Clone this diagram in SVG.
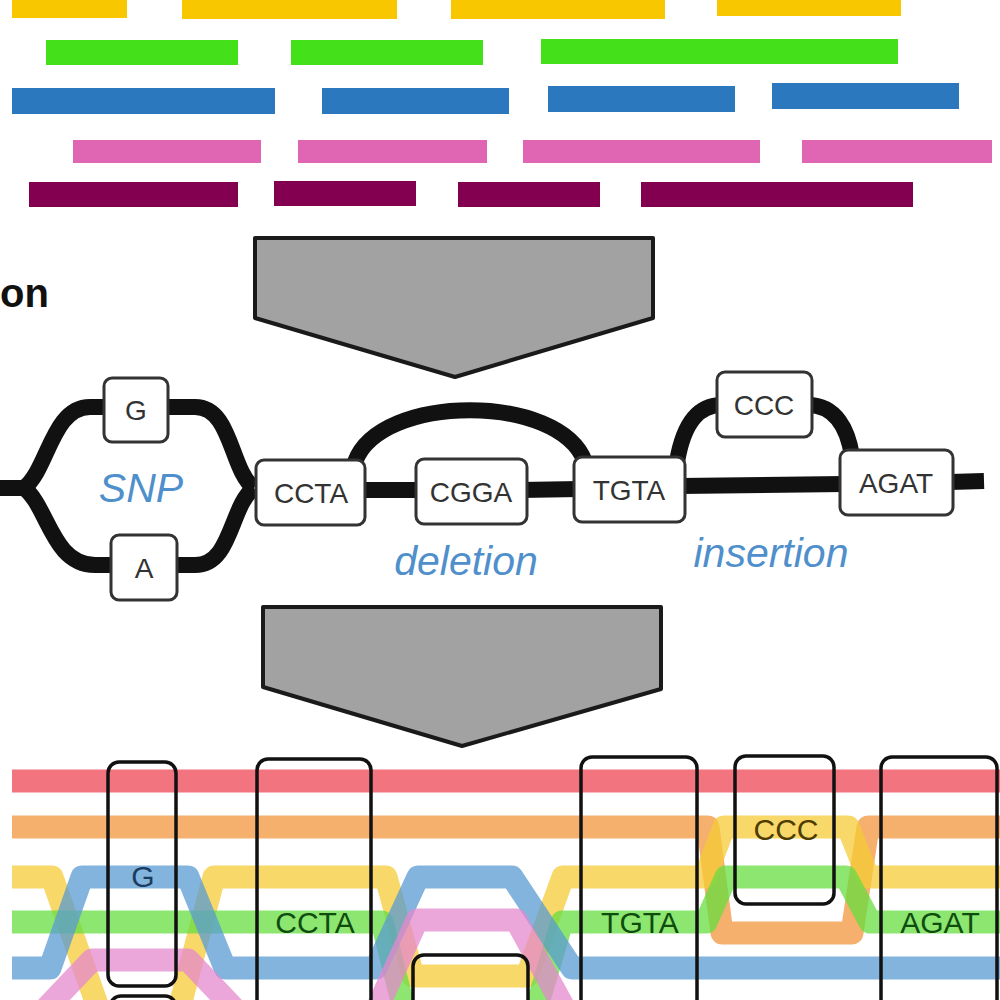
<svg xmlns="http://www.w3.org/2000/svg" width="1000" height="1000" viewBox="0 0 1000 1000">
<style>
.y{fill:#F8C700}.g{fill:#44E01A}.b{fill:#2B78BF}.p{fill:#E066B3}.m{fill:#830050}
.arrow{fill:#A2A2A2;stroke:#1A1A1A;stroke-width:4;stroke-linejoin:round}
.edge{fill:none;stroke:#111;stroke-width:16}
.node rect{fill:#fff;stroke:#333;stroke-width:3}
.nt{font-family:"Liberation Sans",Arial,sans-serif;font-size:28px;fill:#333;text-anchor:middle}
.lab{font-family:"Liberation Sans",Arial,sans-serif;font-size:41px;font-style:italic;fill:#4F8FCB;text-anchor:middle}
.band{fill:none;stroke-width:23;stroke-opacity:0.75;stroke-linejoin:round;stroke-linecap:butt}
.box{fill:none;stroke:#111;stroke-width:3.5}
.bt{font-family:"Liberation Sans",Arial,sans-serif;font-size:30px;text-anchor:middle}
</style>
<g id="reads">
<rect class="y" x="12" y="-6" width="115" height="24"/>
<rect class="y" x="182" y="-6" width="215" height="25"/>
<rect class="y" x="451" y="-6" width="214" height="25"/>
<rect class="y" x="717" y="-6" width="184" height="22"/>
<rect class="g" x="46" y="40" width="192" height="25"/>
<rect class="g" x="291" y="40" width="192" height="25"/>
<rect class="g" x="541" y="39" width="357" height="25"/>
<rect class="b" x="12" y="88" width="263" height="26"/>
<rect class="b" x="322" y="88" width="187" height="26"/>
<rect class="b" x="548" y="86" width="187" height="26"/>
<rect class="b" x="772" y="83" width="187" height="26"/>
<rect class="p" x="73" y="140" width="188" height="23"/>
<rect class="p" x="298" y="140" width="189" height="23"/>
<rect class="p" x="523" y="140" width="237" height="23"/>
<rect class="p" x="802" y="140" width="190" height="23"/>
<rect class="m" x="29" y="182" width="209" height="25"/>
<rect class="m" x="274" y="181" width="142" height="25"/>
<rect class="m" x="458" y="182" width="142" height="25"/>
<rect class="m" x="641" y="182" width="272" height="25"/>
</g>
<text x="0" y="307" font-family="Liberation Sans,Arial,sans-serif" font-size="40" font-weight="bold" fill="#111">on</text>
<polygon id="arrow1" class="arrow" points="255,238 653,238 653,318 455,377 255,318"/>
<polygon id="arrow2" class="arrow" points="263,607 661,607 661,689 462,746 263,687"/>
<g id="graph-edges">
<path class="edge" d="M0,488 L30,488 M360,490 L420,490 M520,490 L580,489 M680,486 L845,484 M950,482 L984,481"/>
<path class="edge" d="M24,488 C48,470 52,407 90,407 H195 C232,407 230,470 254,488"/>
<path class="edge" d="M24,488 C48,506 52,565 95,565 H195 C232,565 230,506 254,488"/>
<path class="edge" d="M355,462 C380,393 560,393 585,462"/>
<path class="edge" d="M677,462 C684,420 700,405 722,405 M808,405 C836,405 848,430 852,456"/>
</g>
<g id="node-G" class="node"><rect x="104" y="378" width="64" height="64" rx="8"/><text class="nt" x="136" y="420">G</text></g>
<g id="node-A" class="node"><rect x="111" y="535" width="66" height="65" rx="8"/><text class="nt" x="144" y="578">A</text></g>
<g id="node-CCTA" class="node"><rect x="256" y="460" width="109" height="65" rx="8"/><text class="nt" x="311" y="503">CCTA</text></g>
<g id="node-CGGA" class="node"><rect x="416" y="459" width="111" height="65" rx="8"/><text class="nt" x="471" y="502">CGGA</text></g>
<g id="node-TGTA" class="node"><rect x="574" y="457" width="111" height="65" rx="8"/><text class="nt" x="629" y="500">TGTA</text></g>
<g id="node-CCC" class="node"><rect x="717" y="372" width="95" height="65" rx="8"/><text class="nt" x="764" y="415">CCC</text></g>
<g id="node-AGAT" class="node"><rect x="840" y="450" width="113" height="65" rx="8"/><text class="nt" x="896" y="493">AGAT</text></g>
<text class="lab" x="141" y="502">SNP</text>
<text class="lab" x="466" y="575">deletion</text>
<text class="lab" x="771" y="567">insertion</text>
<g id="haplotypes">
<path class="band" stroke="#EE4553" d="M12,781 H1000"/>
<path class="band" stroke="#F2963E" d="M12,827 H708 L722,933 H852 L868,827 H1000"/>
<path class="band" stroke="#F5CB36" d="M12,877 H52 L100,1013 H178 L214,877 H386 L413,976 H527 L563,877 H705 L724,827 H848 L868,877 H1000"/>
<path class="band" stroke="#67DE40" d="M12,922 H382 L405,1013 H535 L562,922 H706 L726,877 H846 L870,922 H1000"/>
<path class="band" stroke="#589BD3" d="M12,968 H50 L82,877 H188 L225,968 H376 L418,877 H512 L572,968 H1000"/>
<path class="band" stroke="#E488CE" d="M35,1020 L92,960 H188 L245,1020 H372 L417,920 H516 L568,1015 H1000"/>
</g>
<g id="threads">
<rect class="box" x="108" y="762" width="68" height="224" rx="11"/>
<rect class="box" x="110" y="996" width="66" height="60" rx="11"/>
<rect class="box" x="257" y="759" width="114" height="300" rx="11"/>
<rect class="box" x="413" y="955" width="115" height="100" rx="11"/>
<rect class="box" x="581" y="757" width="116" height="300" rx="11"/>
<rect class="box" x="735" y="756" width="99" height="148" rx="11"/>
<rect class="box" x="881" y="757" width="116" height="300" rx="11"/>
<text class="bt" x="143" y="887" fill="#1B3C60">G</text>
<text class="bt" x="315" y="933" fill="#0F4D0F">CCTA</text>
<text class="bt" x="640" y="933" fill="#0F4D0F">TGTA</text>
<text class="bt" x="786" y="840" fill="#4D3C00">CCC</text>
<text class="bt" x="940" y="933" fill="#0F4D0F">AGAT</text>
</g>
</svg>
